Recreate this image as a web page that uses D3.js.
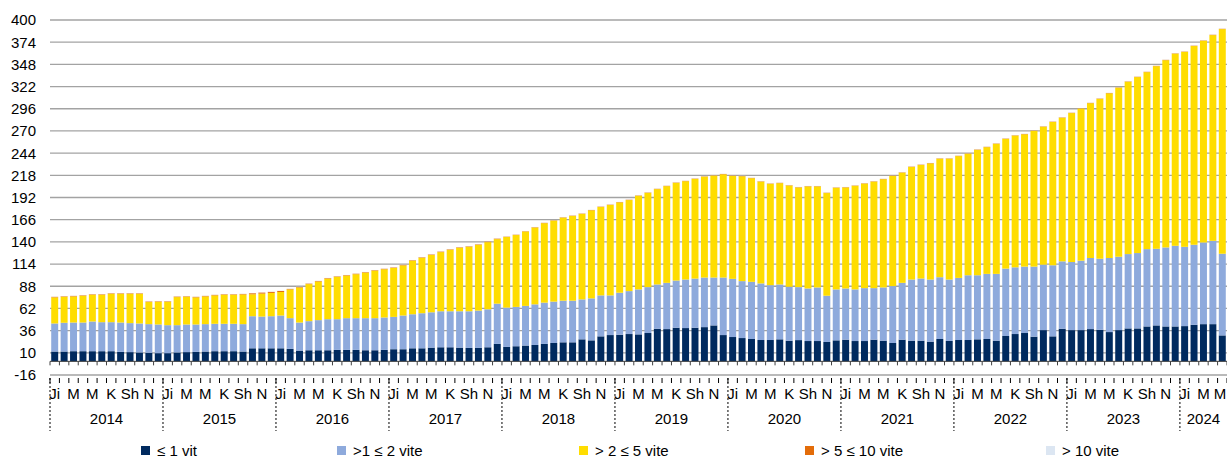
<!DOCTYPE html>
<html>
<head>
<meta charset="utf-8">
<script src="https://cdn.jsdelivr.net/npm/d3@7"></script>
<style>
  body { margin: 0; background: #fff; }
</style>
</head>
<body>
<svg></svg>
<script>
const width = 1227;
const height = 459;
const margin = { top: 20, right: 0, bottom: 81, left: 50 };

// categories: monthly, Jan 2014 .. May 2024
const years = [2014, 2015, 2016, 2017, 2018, 2019, 2020, 2021, 2022, 2023, 2024];
const monthLabels = ["Ji", "", "M", "", "M", "", "K", "", "Sh", "", "N", ""];
const lastYearMonths = 5;

const yTicks = [-16, 10, 36, 62, 88, 114, 140, 166, 192, 218, 244, 270, 296, 322, 348, 374, 400];

// ≤ 1 vit
const upTo1 = [
  11.5, 11.5, 11.9, 11.9, 11.9, 11.9, 11.9, 11.1, 10.8, 10.4, 10.0, 9.6,
  9.6, 10.4, 10.8, 11.1, 11.5, 11.9, 11.9, 11.9, 11.5, 15.3, 15.3, 15.3,
  15.3, 14.6, 12.6, 13.0, 13.0, 13.0, 13.4, 13.4, 13.4, 13.0, 13.0, 13.4,
  14.2, 14.2, 15.3, 15.3, 16.1, 16.5, 16.5, 16.1, 15.7, 15.7, 16.5, 20.4,
  16.9, 17.7, 18.5, 19.2, 20.4, 21.5, 22.3, 22.3, 25.8, 24.6, 29.3, 30.8,
  31.2, 32.0, 31.6, 33.2, 38.2, 37.8, 39.4, 39.0, 39.4, 40.1, 42.1, 30.8,
  28.5, 27.3, 26.2, 25.0, 25.0, 25.8, 24.2, 24.9, 23.8, 23.8, 22.7, 24.6,
  25.4, 23.8, 23.8, 25.4, 24.2, 21.5, 25.4, 24.2, 24.2, 23.1, 26.2, 23.9,
  25.0, 25.0, 25.8, 26.2, 24.2, 29.7, 32.0, 33.2, 28.9, 36.6, 29.3, 38.2,
  36.6, 36.6, 37.8, 37.0, 34.3, 36.6, 38.6, 38.6, 40.9, 42.1, 40.9, 40.9,
  41.3, 42.8, 43.6, 43.6, 30.4
];

// >1 ≤ 2 vite
const from1to2 = [
  32.9, 33.7, 33.6, 33.6, 34.8, 34.0, 34.0, 34.4, 34.0, 34.0, 33.6, 33.6,
  32.8, 32.0, 32.4, 32.1, 32.1, 32.1, 32.1, 32.1, 32.1, 37.6, 37.2, 37.6,
  38.4, 36.0, 32.9, 34.1, 35.3, 36.4, 36.0, 37.2, 37.2, 37.6, 37.6, 38.0,
  37.9, 39.5, 39.9, 41.1, 41.4, 42.2, 42.2, 42.6, 43.0, 43.8, 44.5, 47.2,
  46.1, 46.1, 46.5, 47.6, 48.4, 48.5, 48.8, 48.8, 46.8, 49.2, 48.0, 46.5,
  49.2, 50.3, 52.7, 53.8, 51.9, 54.2, 55.3, 56.9, 57.6, 58.1, 56.1, 67.4,
  68.2, 66.7, 67.0, 66.3, 64.3, 64.3, 63.2, 62.1, 61.6, 62.8, 54.2, 59.7,
  60.0, 60.5, 62.0, 60.4, 62.4, 66.7, 66.6, 71.7, 72.9, 72.8, 72.4, 72.0,
  72.8, 75.9, 75.1, 76.3, 78.3, 79.0, 78.2, 77.8, 82.1, 76.7, 83.3, 79.0,
  79.8, 81.4, 83.3, 83.3, 86.8, 86.0, 87.1, 88.3, 90.6, 89.8, 92.6, 94.5,
  92.9, 93.8, 95.7, 97.6, 95.7
];

// > 2 ≤ 5 vite
const from2to5 = [
  30.6, 30.5, 30.6, 31.4, 31.4, 32.2, 33.3, 33.7, 34.4, 34.8, 25.9, 26.7,
  27.5, 32.9, 32.5, 31.8, 32.5, 33.3, 34.1, 34.1, 34.8, 25.7, 26.9, 27.3,
  27.6, 33.7, 41.1, 43.4, 45.3, 47.6, 49.6, 49.9, 51.5, 53.4, 55.7, 56.5,
  57.3, 58.8, 62.8, 65.0, 67.1, 69.3, 72.0, 74.4, 75.5, 77.0, 78.7, 75.6,
  82.7, 84.2, 87.2, 90.1, 93.1, 95.0, 97.4, 99.3, 100.2, 103.2, 103.6, 105.9,
  105.9, 106.7, 109.8, 110.5, 111.7, 113.3, 114.5, 115.2, 116.8, 118.3, 119.5, 121.0,
  120.6, 122.9, 121.4, 119.4, 118.7, 118.7, 118.7, 116.8, 119.6, 118.4, 120.3, 119.1,
  118.4, 121.4, 122.6, 124.9, 126.8, 129.1, 129.2, 131.9, 133.0, 136.1, 138.9, 141.6,
  142.7, 142.4, 147.0, 148.5, 152.4, 152.0, 154.4, 155.1, 159.0, 161.7, 167.9, 168.3,
  174.5, 178.3, 181.4, 187.3, 193.0, 198.1, 202.0, 206.2, 207.4, 214.0, 219.4, 225.2,
  228.4, 232.9, 236.4, 241.1, 263.2
];

// > 5 ≤ 10 vite
const from5to10 = [
  0.6, 0.6, 0.6, 0.6, 0.6, 0.6, 0.6, 0.6, 0.6, 0.6, 0.6, 0.6,
  0.6, 0.6, 0.6, 0.6, 0.6, 0.6, 0.6, 0.6, 0.6, 1.2, 1.2, 1.2,
  1.2, 0.6, 0.6, 0.6, 0.6, 0.6, 0.6, 0.6, 0.6, 0.6, 0.6, 0.6,
  0.6, 0.6, 0.6, 0.6, 0.6, 0.6, 0.6, 0.6, 0.6, 0.6, 0.6, 0.6,
  0.4, 0.4, 0.4, 0.4, 0.4, 0.4, 0.4, 0.4, 0.4, 0.4, 0.4, 0.4,
  0.4, 0.4, 0.4, 0.4, 0.4, 0.4, 0.4, 0.4, 0.4, 0.4, 0.4, 0.4,
  0.4, 0.4, 0.4, 0.4, 0.4, 0.4, 0.4, 0.4, 0.4, 0.4, 0.4, 0.4,
  0.4, 0.4, 0.4, 0.4, 0.4, 0.4, 0.4, 0.4, 0.4, 0.4, 0.4, 0.4,
  0.4, 0.4, 0.4, 0.4, 0.4, 0.4, 0.4, 0.4, 0.4, 0.4, 0.4, 0.4,
  0.4, 0.4, 0.4, 0.4, 0.4, 0.4, 0.4, 0.4, 0.4, 0.4, 0.4, 0.4,
  0.4, 0.4, 0.4, 0.4, 0.4
];

// > 10 vite (very small)
const over10 = upTo1.map(() => 0.2);

const seriesNames = ["≤ 1 vit", ">1 ≤ 2 vite", "> 2 ≤ 5 vite", "> 5 ≤ 10 vite", "> 10 vite"];
const seriesColors = ["#002a5f", "#8eaadc", "#ffdd00", "#e36c09", "#dce6f2"];
const seriesData = [upTo1, from1to2, from2to5, from5to10, over10];

const fontFamily = '"Liberation Sans", Arial, sans-serif';

// build category list
const categories = [];
years.forEach((yr, yi) => {
  const n = yi === years.length - 1 ? lastYearMonths : 12;
  for (let m = 0; m < n; m++) categories.push({ year: yr, month: m, label: monthLabels[m] });
});

const table = categories.map((c, i) => {
  const row = { i };
  seriesNames.forEach((s, k) => row[s] = seriesData[k][i]);
  return row;
});

const svg = d3.select("svg")
  .attr("width", width)
  .attr("height", height)
  .style("font-family", fontFamily);

const x = d3.scaleBand()
  .domain(d3.range(categories.length))
  .range([margin.left, width - margin.right])
  .paddingInner(0.26)
  .paddingOuter(0.13);

const bandStart = i => margin.left + i * (width - margin.right - margin.left) / categories.length;

const y = d3.scaleLinear()
  .domain([-16, 400])
  .range([height - margin.bottom - 3, margin.top]);

// gridlines
svg.append("g")
  .selectAll("line")
  .data(yTicks)
  .enter()
  .append("line")
  .attr("x1", margin.left)
  .attr("x2", width - margin.right)
  .attr("y1", d => y(d))
  .attr("y2", d => y(d))
  .attr("stroke", "#a3a3a3")
  .attr("stroke-width", 1.3);

// y labels
svg.append("g")
  .selectAll("text")
  .data(yTicks)
  .enter()
  .append("text")
  .attr("x", 36)
  .attr("y", d => y(d))
  .attr("dy", "0.36em")
  .attr("text-anchor", "end")
  .style("font-size", "15px")
  .attr("fill", "#000")
  .text(d => d);

// stacked bars
const stack = d3.stack().keys(seriesNames);
const stacked = stack(table);

svg.append("g")
  .selectAll("g")
  .data(stacked)
  .enter()
  .append("g")
  .attr("fill", (d, k) => seriesColors[k])
  .selectAll("rect")
  .data(d => d)
  .enter()
  .append("rect")
  .attr("x", d => x(d.data.i))
  .attr("width", x.bandwidth())
  .attr("y", d => y(d[1]))
  .attr("height", d => Math.max(0, y(d[0]) - y(d[1])));

// zero axis with ticks between categories
const y0 = y(0);
svg.append("line")
  .attr("x1", margin.left)
  .attr("x2", width)
  .attr("y1", y0)
  .attr("y2", y0)
  .attr("stroke", "#404040")
  .attr("stroke-width", 1);

const boundaries = d3.range(categories.length + 1).map(bandStart);
svg.append("g")
  .selectAll("line")
  .data(boundaries)
  .enter()
  .append("line")
  .attr("x1", d => d)
  .attr("x2", d => d)
  .attr("y1", y0)
  .attr("y2", y0 + 4)
  .attr("stroke", "#404040")
  .attr("stroke-width", 1);

// category axis ticks below the bottom gridline
const yb = y(-16);
svg.append("g")
  .selectAll("line")
  .data(boundaries)
  .enter()
  .append("line")
  .attr("x1", d => d)
  .attr("x2", d => d)
  .attr("y1", yb + 3)
  .attr("y2", yb + 8)
  .attr("stroke", "#000")
  .attr("stroke-width", 1);

// month labels
svg.append("g")
  .selectAll("text")
  .data(categories.map((c, i) => ({ ...c, i })).filter(c => c.label))
  .enter()
  .append("text")
  .attr("x", d => Math.min(x(d.i) + x.bandwidth() / 2, width - 7))
  .attr("y", 399)
  .attr("text-anchor", "middle")
  .style("font-size", "15px")
  .attr("fill", "#000")
  .text(d => d.label);

// year separators (dotted) and labels
const yearStarts = years.map(yr => categories.findIndex(c => c.year === yr));
svg.append("g")
  .selectAll("line")
  .data(yearStarts)
  .enter()
  .append("line")
  .attr("x1", d => bandStart(d))
  .attr("x2", d => bandStart(d))
  .attr("y1", yb + 3)
  .attr("y2", 431)
  .attr("stroke", "#000")
  .attr("stroke-width", 1)
  .attr("stroke-dasharray", "2,2");

svg.append("g")
  .selectAll("text")
  .data(years)
  .enter()
  .append("text")
  .attr("x", (d, k) => {
    const a = bandStart(yearStarts[k]);
    const b = k + 1 < years.length ? bandStart(yearStarts[k + 1]) : width;
    return (a + b) / 2;
  })
  .attr("y", 424)
  .attr("text-anchor", "middle")
  .style("font-size", "15px")
  .attr("fill", "#000")
  .text(d => d);

// legend
const legendX = [141, 337, 579, 805, 1046];
const legend = svg.append("g");
const items = legend.selectAll("g")
  .data(seriesNames)
  .enter()
  .append("g")
  .attr("transform", (d, k) => `translate(${legendX[k]},446)`);

items.append("rect")
  .attr("width", 9)
  .attr("height", 9)
  .attr("fill", (d, k) => seriesColors[k]);

items.append("text")
  .attr("x", 16)
  .attr("y", 10)
  .style("font-size", "15px")
  .attr("fill", "#000")
  .text(d => d);
</script>
</body>
</html>
